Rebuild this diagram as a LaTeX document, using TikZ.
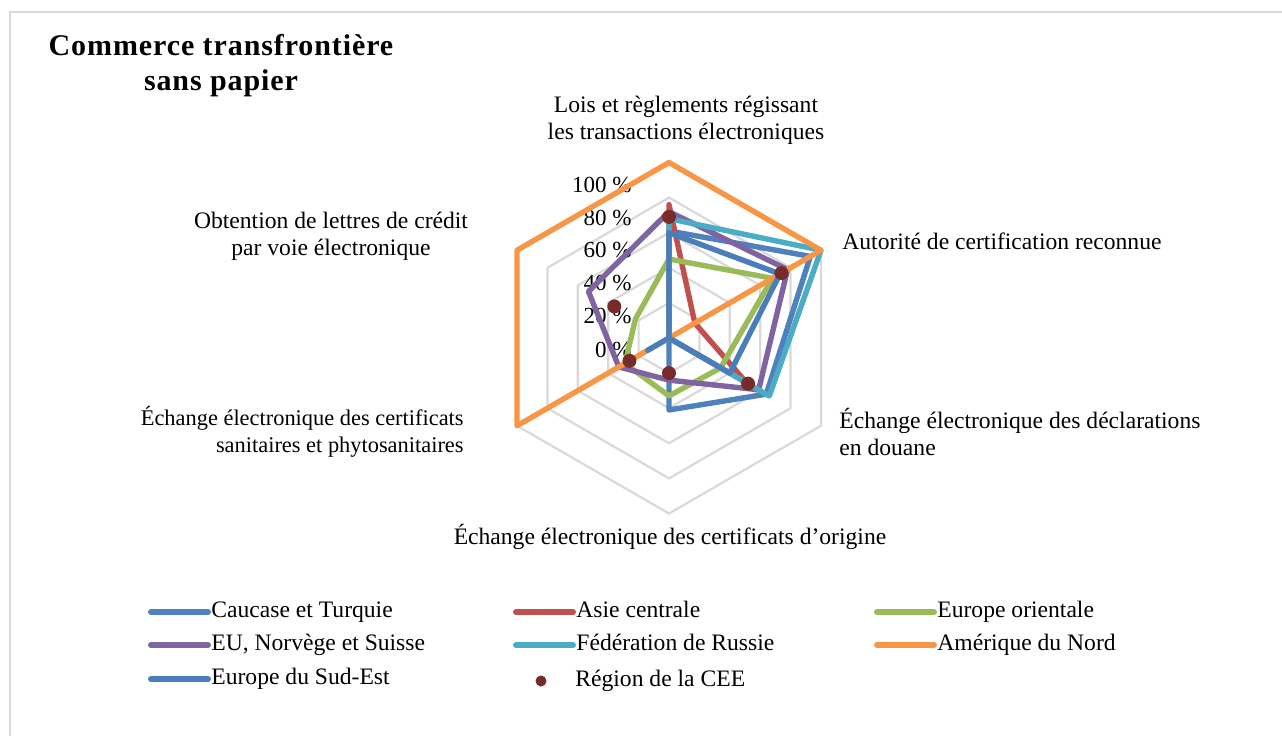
\documentclass[tikz,border=0pt]{standalone}
\usepackage{fontspec}
\setmainfont{Liberation Serif}
\newfontfamily\titlefont[LetterSpace=3]{Liberation Serif}
\usepackage{tikz}
\usetikzlibrary{positioning}

\definecolor{caucase}{HTML}{4F81BD}
\definecolor{asie}{HTML}{C0504D}
\definecolor{europeor}{HTML}{9BBB59}
\definecolor{eu}{HTML}{8064A2}
\definecolor{russie}{HTML}{4BACC6}
\definecolor{amerique}{HTML}{F79646}
\definecolor{sudest}{HTML}{4A7EBB}
\definecolor{ceered}{HTML}{772C2A}
\definecolor{gridgrey}{HTML}{D9D9D9}

\newcommand{\serieradar}[3]{%
  \foreach \v [count=\k from 0] in {#3}
    \coordinate (#1\k) at ({-90+60*\k}:{\v*1.755});
  \draw[serie,#2] (#10) -- (#11) -- (#12) -- (#13) -- (#14) -- (#15) -- cycle;
}

\begin{document}
\begin{tikzpicture}[x=0.5pt,y=-0.5pt,
    grille/.style={draw=gridgrey, line width=1.1pt},
    serie/.style={line width=2.7pt, line join=round},
    lbl/.style={font=\fontsize{11.8}{13.5}\selectfont, align=center, inner sep=0pt},
    tick/.style={font=\fontsize{11.5}{13.5}\selectfont, anchor=east, inner sep=0pt},
    cee/.style={circle, fill=ceered, inner sep=0pt, minimum size=7pt}]
  \useasboundingbox (0,0) rectangle (1282,735);
  \draw[gridgrey, line width=0.8pt] (10,760) -- (10,12) -- (1300,12);

  \node[font=\titlefont\fontsize{15}{17.5}\selectfont\bfseries, align=center, inner sep=0pt] (titre) at (221,66) {Commerce transfrontière\\sans papier};

  \begin{scope}[shift={(669,338)}]
    \coordinate (C) at (0,0);
    \foreach \r in {20,40,...,100}
      \draw[grille] (-90:{\r*1.755}) \foreach \k in {1,...,5} { -- ({-90+60*\k}:{\r*1.755}) } -- cycle;
  \end{scope}

  \foreach \p/\y in {0/350,20/316,40/283,60/250,80/218,100/185}
    \node[tick] (t\p) at (632,\y) {\p~\%};

  \begin{scope}[shift={(669,338)}]
    \serieradar{cau}{caucase}{61,93,64,41,0,0}
    \serieradar{asi}{asie}{76,17,51,0,0,0}
    \serieradar{eor}{europeor}{45,68,34,33,29,22}
    \serieradar{eun}{eu}{72,78,59,24,33,53}
    \serieradar{rus}{russie}{68,100,66,0,0,0}
    \serieradar{ame}{amerique}{100,100,0,0,100,100}
    \serieradar{sud}{sudest}{60,73,40,0,14,0}
    \foreach \v [count=\k from 0] in {69,74,52,20,26,36}
      \node[cee] (cee\k) at ({-90+60*\k}:{\v*1.755}) {};
  \end{scope}

  \node[lbl] (lois) at (686,120) {Lois et règlements régissant\\les transactions électroniques};
  \node[lbl, anchor=west, align=left] (autorite) at (842,241) {Autorité de certification reconnue};
  \node[lbl, anchor=west, align=left] (douane) at (839,432) {Échange électronique des déclarations\\en douane};
  \node[lbl] (origine) at (670,537) {Échange électronique des certificats d’origine};
  \node[lbl, anchor=east, align=right, font=\fontsize{11.2}{13.5}\selectfont] (sanitaire) at (464,432) {Échange électronique des certificats\\sanitaires et phytosanitaires};
  \node[lbl] (credit) at (331,236) {Obtention de lettres de crédit\\par voie électronique};

  \foreach \nom/\coul/\x/\y [count=\i] in {Caucase et Turquie/caucase/151/612, Asie centrale/asie/516/612, Europe orientale/europeor/877/612, {EU, Norvège et Suisse}/eu/151/645, Fédération de Russie/russie/516/645, Amérique du Nord/amerique/877/645, Europe du Sud-Est/sudest/151/679}
  {
    \draw[serie, \coul, line cap=round, line width=3pt] (\x,\y) -- ++(57,0) coordinate (fin\i);
    \node[lbl, anchor=west, text height=1.6ex, text depth=0.4ex] (leg\i) at ([xshift=1.5pt]fin\i) {\nom};
  }
  \node[cee, minimum size=5.5pt] (pointcee) at (541,681) {};
  \node[lbl, anchor=west, text height=1.6ex, text depth=0.4ex] (legcee) at (575,681) {Région de la CEE};
\end{tikzpicture}
\end{document}
